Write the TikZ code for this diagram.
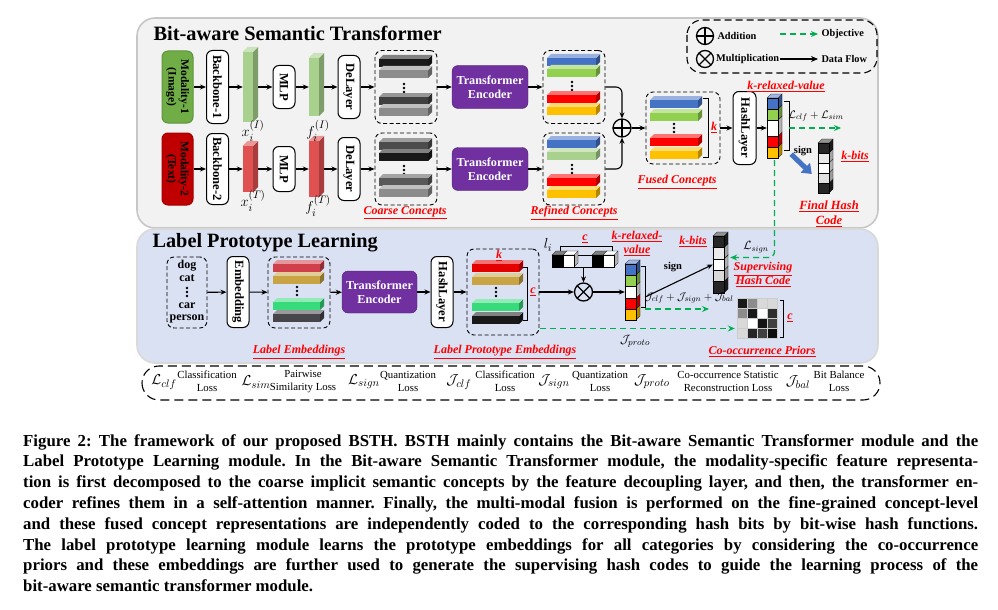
\documentclass[tikz,border=0pt]{standalone}
\usepackage{amsmath}
\usepackage{fontspec}
\setmainfont{Liberation Serif}
\usetikzlibrary{arrows.meta,positioning,calc}

\definecolor{panelgray}{HTML}{F2F2F2}
\definecolor{panelblue}{HTML}{DAE1F3}
\definecolor{imggreen}{HTML}{70AD47}
\definecolor{txtred}{HTML}{C00000}
\definecolor{encpurple}{HTML}{7030A0}
\definecolor{cblue}{HTML}{4472C4}
\definecolor{cgreen}{HTML}{92D050}
\definecolor{cred}{HTML}{FF0000}
\definecolor{cyellow}{HTML}{FFC000}
\definecolor{objgreen}{HTML}{00B050}
\definecolor{featgreen}{HTML}{A9D18E}
\definecolor{featred}{HTML}{E05252}
\definecolor{lred}{HTML}{D0404A}
\definecolor{lgold}{HTML}{C9A444}
\definecolor{lgreen}{HTML}{38DB7C}
\definecolor{ldark}{HTML}{45454A}

\newcommand{\fsz}[1]{\fontsize{#1}{#1}\selectfont}

% concept bar: x, y, width, colour
\newcommand{\cbar}[4]{%
  \colorlet{barc}{#4}%
  \fill[barc!70!black] (#1+#3,#2) -- ++(4,-4) -- ++(0,8) -- ++(-4,4) -- cycle;
  \fill[barc!55!white] (#1,#2) -- ++(4,-4) -- ++(#3,0) -- ++(-4,4) -- cycle;
  \fill[barc] (#1,#2) rectangle ++(#3,8);}

% vertical ellipsis: x, y of the middle dot
\newcommand{\vdotsat}[2]{%
  \fill (#1,#2-4) circle (1.3) (#1,#2) circle (1.3) (#1,#2+4) circle (1.3);}

% one cube of a code column: x, y, height, colour
\newcommand{\cubeat}[4]{%
  \colorlet{cubec}{#4}%
  \filldraw[fill=cubec!70!black, draw=black, line width=0.3pt] (#1+11,#2) -- ++(4,-4) -- ++(0,#3) -- ++(-4,4) -- cycle;
  \filldraw[fill=cubec!50!white, draw=black, line width=0.3pt] (#1,#2) -- ++(4,-4) -- ++(11,0) -- ++(-4,4) -- cycle;
  \filldraw[fill=cubec, draw=black, line width=0.3pt] (#1,#2) rectangle ++(11,#3);}

% feature vector: name, x, y, height, colour
\newcommand{\featbar}[5]{%
  \node[inner sep=0pt, minimum width=10pt, minimum height=#4pt, fill=#5] (#1) at (#2,#3) {};
  \fill[#5!75!black] (#1.north east) -- ++(5,-5) -- ++(0,#4) -- ++(-5,5) -- cycle;
  \fill[#5!60!white] (#1.north west) -- ++(5,-5) -- ++(10,0) -- ++(-5,5) -- cycle;}

\begin{document}
\begin{tikzpicture}[x=1pt, y=-1pt,
    vbox/.style={draw, fill=white, rounded corners=6pt, line width=1pt, rotate=-90, inner sep=1pt, align=center, font=\bfseries\fsz{12.6}},
    encbox/.style={fill=encpurple, draw=encpurple!70!black, rounded corners=6pt, text=white, align=center, font=\bfseries\fontsize{12.2}{14}\selectfont, minimum width=76pt, minimum height=43pt, inner sep=1pt},
    dbox/.style={draw, dash pattern=on 4pt off 2.5pt, rounded corners=7pt, line width=0.9pt, inner sep=0pt},
    colnode/.style={inner sep=0pt, minimum width=11pt},
    redlbl/.style={text=red, font=\bfseries\itshape\fontsize{12}{14}\selectfont, align=center},
    addop/.style={circle, draw, line width=1.3pt, minimum size=18pt, inner sep=0pt,
      path picture={\draw[line width=1.3pt] (path picture bounding box.north) -- (path picture bounding box.south)
        (path picture bounding box.west) -- (path picture bounding box.east);}},
    mulop/.style={circle, draw, line width=1.3pt, minimum size=18pt, inner sep=0pt,
      path picture={\draw[line width=1.3pt] (path picture bounding box.north west) -- (path picture bounding box.south east)
        (path picture bounding box.south west) -- (path picture bounding box.north east);}},
    obj/.style={objgreen, line width=1.3pt, dash pattern=on 6pt off 4pt, -{Stealth[length=7pt,width=6pt]}},
  ]
  \useasboundingbox (0,0) rectangle (998,610);

  % panels
  \draw[draw=black!22, line width=1.6pt, fill=panelgray, rounded corners=18pt] (137,18) rectangle (878,228);
  \draw[draw=black!15, line width=1.6pt, fill=panelblue, rounded corners=18pt] (137,229) rectangle (878,363);
  \draw[dbox, dash pattern=on 9pt off 5pt, line width=1.1pt, fill=white, rounded corners=17pt] (142,366) rectangle (880,400);

  \node[anchor=west, font=\bfseries\fsz{20.4}] (ttop) at (150,33) {Bit-aware Semantic Transformer};
  \node[anchor=west, font=\bfseries\fsz{20.3}] (tbot) at (149,243) {Label Prototype Learning};

  % legend
  \draw[dbox, dash pattern=on 7pt off 4pt, line width=1.1pt, rounded corners=15pt] (687,20) rectangle (877,73);
  \begin{scope}[font=\bfseries\fsz{10.3}]
    \node[addop, minimum size=17pt] (lgadd) at (705,36) {};
    \node[anchor=west] (lgaddtxt) at (714,36) {Addition};
    \node[mulop, minimum size=17pt] (lgmul) at (705,59) {};
    \node[anchor=west, inner sep=1pt] (lgmultxt) at (715,59) {Multiplication};
    \node[anchor=west] (lgobjtxt) at (818,34) {Objective};
    \node[anchor=west] (lgflowtxt) at (818,59) {Data Flow};
    \coordinate (lgobj) at (780,34);
    \draw[obj] (lgobj) -- (lgobjtxt.west);
    \draw[-{Stealth[length=7pt,width=6pt]}, line width=1.1pt] (lgmultxt.east) -- (lgflowtxt.west);
  \end{scope}

  % image branch
  \node[vbox, fill=imggreen, draw=imggreen!85!black, minimum width=72pt, minimum height=31pt, font=\bfseries\fontsize{11.5}{12.5}\selectfont] (mod1) at (177.5,87) {Modality-1\\(Image)};
  \node[vbox, minimum width=73pt, minimum height=22pt] (bb1) at (217.5,87) {Backbone-1};
  \featbar{xi1}{248}{87}{70}{featgreen}
  \node[vbox, minimum width=43pt, minimum height=22pt] (mlp1) at (284,87) {MLP};
  \featbar{fi1}{314}{87}{58}{featgreen}
  \node[vbox, minimum width=63pt, minimum height=22pt] (del1) at (349,87) {DeLayer};
  \node[dbox, minimum width=62pt, minimum height=73pt] (cc1) at (406,87) {};
  \cbar{379}{59}{49}{black!90}
  \cbar{379}{70}{49}{black!45}
  \vdotsat{404}{88}
  \cbar{379}{97}{49}{black!75}
  \cbar{379}{108}{49}{black!45}
  \node[encbox] (te1) at (490,87) {Transformer\\Encoder};
  \node[dbox, minimum width=62pt, minimum height=73pt] (rc1) at (574,87) {};
  \cbar{547}{58}{49}{cblue}
  \cbar{547}{69}{49}{cgreen}
  \vdotsat{572}{86}
  \cbar{547}{95}{49}{cred}
  \cbar{547}{107}{49}{cyellow}

  % text branch
  \node[vbox, fill=txtred, draw=txtred!85!black, minimum width=72pt, minimum height=31pt, font=\bfseries\fontsize{11.5}{12.5}\selectfont] (mod2) at (177.5,169) {Modality-2\\(Text)};
  \node[vbox, minimum width=71pt, minimum height=22pt] (bb2) at (217.5,169) {Backbone-2};
  \featbar{xi2}{248}{169}{46}{featred}
  \node[vbox, minimum width=45pt, minimum height=22pt] (mlp2) at (284,169) {MLP};
  \featbar{fi2}{314}{169}{56}{featred}
  \node[vbox, minimum width=63pt, minimum height=22pt] (del2) at (349,169) {DeLayer};
  \node[dbox, minimum width=62pt, minimum height=72pt] (cc2) at (406,169) {};
  \cbar{379}{142}{49}{black!70}
  \cbar{379}{153}{49}{black!90}
  \vdotsat{404}{170}
  \cbar{379}{178}{49}{black!65}
  \cbar{379}{189}{49}{black!45}
  \node[encbox] (te2) at (490,169) {Transformer\\Encoder};
  \node[dbox, minimum width=62pt, minimum height=72pt] (rc2) at (574,169) {};
  \cbar{547}{140}{49}{cblue}
  \cbar{547}{152}{49}{featgreen}
  \vdotsat{572}{169}
  \cbar{547}{178}{49}{cred}
  \cbar{547}{190}{49}{cyellow}

  \node[font=\fsz{15}] at (253,131) {$x_i^{(I)}$};
  \node[font=\fsz{15}] at (318,131) {$f_i^{(I)}$};
  \node[font=\fsz{15}] at (253,201) {$x_i^{(T)}$};
  \node[font=\fsz{15}] at (318,206) {$f_i^{(T)}$};
  \node[redlbl] at (405,213) {\underline{Coarse Concepts}};
  \node[redlbl] at (574,213) {\underline{Refined Concepts}};

  % fusion and hashing
  \node[addop] (add) at (622,128) {};
  \node[dbox, minimum width=74pt, minimum height=72pt] (fc) at (683,128) {};
  \cbar{650}{100}{48}{cblue}
  \cbar{650}{113}{48}{cgreen}
  \vdotsat{674}{128}
  \cbar{650}{138}{48}{cred}
  \cbar{650}{151}{48}{cyellow}
  \draw[line width=0.8pt] (703,98) -- (708,98) -- (708,157) -- (703,157);
  \node[redlbl] at (714,128) {\underline{k}};
  \node[redlbl] at (677,182) {\underline{Fused Concepts}};
  \node[vbox, minimum width=73pt, minimum height=23pt] (hl1) at (744.5,128) {HashLayer};

  \node[colnode, minimum height=60pt] (rv1) at (772.5,128) {};
  \cubeat{767}{147}{11}{cyellow}
  \cubeat{767}{136}{11}{cred}
  \cubeat{767}{120}{16}{white}
  \cubeat{767}{109}{11}{cgreen}
  \cubeat{767}{98}{11}{cblue}
  \draw[line width=0.8pt] (784,101) -- (789,101) -- (789,150) -- (784,150);
  \node[redlbl] at (786,87) {\underline{k-relaxed-value}};
  \coordinate (obj1) at (841,128);
  \draw[obj] ($(rv1.east)+(11,0)$) -- (obj1);
  \node[font=\fsz{11}] at (816,116) {$\mathcal{L}_{clf}+\mathcal{L}_{sim}$};

  \node[colnode, minimum height=50pt] (fhc) at (823.5,168) {};
  \cubeat{818}{183}{10}{black!85}
  \cubeat{818}{173}{10}{black!12}
  \cubeat{818}{163}{10}{white}
  \cubeat{818}{153}{10}{black!8}
  \cubeat{818}{143}{10}{black!85}
  \draw[cblue, line width=5pt, -{Triangle[length=9pt,width=13pt]}] ($(rv1.south east)+(13,-4)$) -- ($(fhc.west)+(-6,6)$);
  \node[font=\bfseries\fsz{10.5}] at (803,151) {sign};
  \node[redlbl] at (855,157) {\underline{k-bits}};
  \node[redlbl, font=\bfseries\itshape\fontsize{12.5}{15}\selectfont] at (829,214) {\underline{Final Hash}\\\underline{Code}};

  % label prototype branch
  \node[dbox, minimum width=40pt, minimum height=71pt] (labels) at (187,292.5) {};
  \begin{scope}[font=\bfseries\fsz{12}, inner sep=0pt]
    \node (dog) at (187,265.5) {dog};
    \node (cat) at (187,278.5) {cat};
    \node (car) at (187,305.5) {car};
    \node (person) at (187,319) {person};
  \end{scope}
  \vdotsat{187}{292}
  \node[vbox, minimum width=71pt, minimum height=22pt] (emb) at (238,292) {Embedding};
  \node[dbox, minimum width=62pt, minimum height=71pt] (lemb) at (299,292.5) {};
  \cbar{273}{264}{47}{lred}
  \cbar{273}{276}{47}{lgold}
  \vdotsat{297}{291}
  \cbar{273}{302}{47}{lgreen}
  \cbar{273}{314}{47}{ldark}
  \node[encbox, minimum width=75pt, minimum height=42pt] (te3) at (379.5,292) {Transformer\\Encoder};
  \node[vbox, minimum width=71pt, minimum height=22pt] (hl2) at (442,292) {HashLayer};
  \node[dbox, minimum width=72pt, minimum height=86pt] (lpe) at (503,292) {};
  \cbar{472}{264}{47}{red!90!black}
  \cbar{472}{277}{47}{lgold}
  \vdotsat{496}{292}
  \cbar{472}{303}{47}{lgreen}
  \cbar{472}{316}{47}{black!90}
  \draw[line width=0.8pt] (523,267) -- (527,267) -- (527,320) -- (523,320);
  \node[redlbl] at (499,256) {\underline{k}};
  \node[redlbl] at (533,292) {\underline{c}};
  \node[redlbl] at (299,352) {\underline{Label Embeddings}};
  \node[redlbl] at (505,352) {\underline{Label Prototype Embeddings}};

  \node[mulop] (mul) at (583.5,292) {};
  \node[inner sep=0pt, minimum width=63pt, minimum height=12pt] (li) at (583.5,261) {};
  \draw[line width=0.5pt] (574,255) -- (592,255) (574,267) -- (592,267);
  \cubeat{552}{255}{12}{black}
  \cubeat{563}{255}{12}{white}
  \cubeat{592}{255}{12}{black}
  \cubeat{603}{255}{12}{white}
  \draw[line width=0.8pt] (560,251) -- (560,246) -- (612,246) -- (612,251);
  \node[redlbl] at (585,239) {\underline{c}};
  \node[font=\fsz{15}] at (548,245) {$l_i$};

  \node[colnode, minimum height=56pt] (rv2) at (630.5,292) {};
  \cubeat{625}{309}{11}{cyellow}
  \cubeat{625}{298}{11}{cred}
  \cubeat{625}{286}{12}{white}
  \cubeat{625}{275}{11}{cgreen}
  \cubeat{625}{264}{11}{cblue}
  \draw[line width=0.8pt] (641,266) -- (645,266) -- (645,307) -- (641,307);
  \node[redlbl] at (637,244) {\underline{k-relaxed-}\\\underline{value}};

  \node[colnode, minimum height=57pt] (sup) at (718.5,264.5) {};
  \cubeat{713}{281.6}{11.4}{black!85}
  \cubeat{713}{270.2}{11.4}{black!15}
  \cubeat{713}{258.8}{11.4}{white}
  \cubeat{713}{247.4}{11.4}{black!8}
  \cubeat{713}{236}{11.4}{black!85}
  \node[redlbl] at (693,242) {\underline{k-bits}};
  \node[redlbl] at (763,275) {\underline{Supervising}\\\underline{Hash Code}};
  \node[font=\bfseries\fsz{10.5}] at (673,267) {sign};

  \node[inner sep=0pt, minimum size=40pt] (cooc) at (757,318) {};
  \foreach \v [count=\i from 0] in {90,45,15,15, 45,90,0,82, 15,0,92,75, 15,85,75,95} {
    \pgfmathsetmacro\cx{737+10*mod(\i,4)}
    \pgfmathsetmacro\cy{298+10*int(\i/4)}
    \filldraw[fill=black!\v, draw=black!20, line width=0.8pt] (\cx,\cy) rectangle ++(10,10);
  }
  \draw[line width=0.8pt] (780,300) -- (783,300) -- (783,337) -- (780,337);
  \node[redlbl] at (790,318) {\underline{c}};
  \node[redlbl] at (762,352) {\underline{Co-occurrence Priors}};

  % data flow
  \begin{scope}[-{Stealth[length=6pt,width=5pt]}, line width=1.1pt]
    \draw (mod1) -- (bb1);
    \draw (bb1) -- (xi1);
    \draw[shorten <=5pt] (xi1) -- (mlp1);
    \draw (mlp1) -- (fi1);
    \draw[shorten <=5pt] (fi1) -- (del1);
    \draw (del1) -- (cc1);
    \draw (cc1) -- (te1);
    \draw (te1) -- (rc1);
    \draw (mod2) -- (bb2);
    \draw (bb2) -- (xi2);
    \draw[shorten <=5pt] (xi2) -- (mlp2);
    \draw (mlp2) -- (fi2);
    \draw[shorten <=5pt] (fi2) -- (del2);
    \draw (del2) -- (cc2);
    \draw (cc2) -- (te2);
    \draw (te2) -- (rc2);
    \draw[rounded corners=6pt] (rc1.east) -| (add.north);
    \draw[rounded corners=6pt] (rc2.east) -| (add.south);
    \draw (add) -- (fc);
    \draw (fc) -- (hl1);
    \draw (hl1) -- (rv1);
    \draw (labels) -- (emb);
    \draw (emb) -- (lemb);
    \draw (lemb) -- (te3);
    \draw (te3) -- (hl2);
    \draw (hl2) -- (lpe);
    \draw (lpe) -- (mul);
    \draw (li) -- (mul);
    \draw (mul) -- (rv2);
    \draw ($(rv2.east)+(9,5)$) -- (sup.west);
  \end{scope}

  % objectives
  \draw[obj, rounded corners=6pt] ($(rv1.south)+(2,2)$) |- ($(sup.east)+(6,-7)$);
  \node[font=\fsz{12}] at (756,247) {$\mathcal{L}_{sign}$};
  \coordinate (jend) at (709,309);
  \draw[obj] ($(rv2.east)+(9,17)$) -- (jend);
  \node[font=\fsz{11}] at (689,298) {$\mathcal{J}_{clf}+\mathcal{J}_{sign}+\mathcal{J}_{bal}$};
  \coordinate (pstart) at ($(lpe.south east)+(1,-7)$);
  \draw[obj] (pstart) -- ($(pstart -| cooc.west)+(-2,0)$);
  \node[font=\fsz{13}] at (635,341) {$\mathcal{J}_{proto}$};

  % loss legend
  \begin{scope}[font=\fontsize{10.8}{13}\selectfont, align=center]
    \node[font=\fsz{15}] (k1) at (164,382) {$\mathcal{L}_{clf}$};
    \node (t1) at (207,381.5) {Classification\\Loss};
    \node[font=\fsz{15}] (k2) at (256,382) {$\mathcal{L}_{sim}$};
    \node (t2) at (303,381.5) {Pairwise\\Similarity Loss};
    \node[font=\fsz{15}] (k3) at (364,382) {$\mathcal{L}_{sign}$};
    \node (t3) at (408,381.5) {Quantization\\Loss};
    \node[font=\fsz{15}] (k4) at (459,382) {$\mathcal{J}_{clf}$};
    \node (t4) at (505,381.5) {Classification\\Loss};
    \node[font=\fsz{15}] (k5) at (554,382) {$\mathcal{J}_{sign}$};
    \node (t5) at (600,381.5) {Quantization\\Loss};
    \node[font=\fsz{15}] (k6) at (652,382) {$\mathcal{J}_{proto}$};
    \node (t6) at (728,381.5) {Co-occurrence Statistic\\Reconstruction Loss};
    \node[font=\fsz{15}] (k7) at (798,382) {$\mathcal{J}_{bal}$};
    \node (t7) at (839,381.5) {Bit Balance\\Loss};
  \end{scope}

  % caption
  \node[anchor=north west, text width=955pt, align=justify, inner sep=0pt,
    font=\bfseries\fontsize{16.8}{20.8}\selectfont\frenchspacing] (cap) at (23,434)
    {Figure 2: The framework of our proposed BSTH. BSTH mainly contains the Bit-aware Semantic Transformer module and the\linebreak
     Label Prototype Learning module. In the Bit-aware Semantic Transformer module, the modality-specific feature representa-\linebreak
     tion is first decomposed to the coarse implicit semantic concepts by the feature decoupling layer, and then, the transformer en-\linebreak
     coder refines them in a self-attention manner. Finally, the multi-modal fusion is performed on the fine-grained concept-level\linebreak
     and these fused concept representations are independently coded to the corresponding hash bits by bit-wise hash functions.\linebreak
     The label prototype learning module learns the prototype embeddings for all categories by considering the co-occurrence\linebreak
     priors and these embeddings are further used to generate the supervising hash codes to guide the learning process of the\linebreak
     bit-aware semantic transformer module.};
\end{tikzpicture}
\end{document}
